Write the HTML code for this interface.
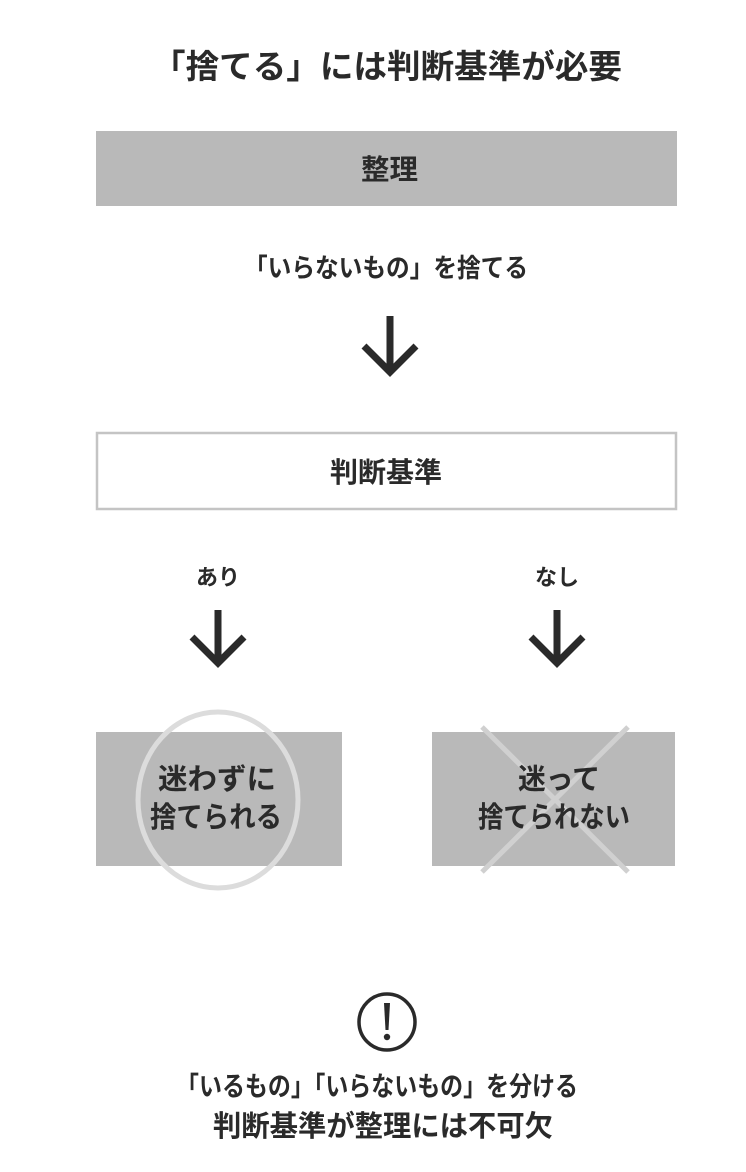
<!DOCTYPE html>
<html><head><meta charset="utf-8"><style>
html,body{margin:0;padding:0;background:#fff;}
svg{display:block;}
text{font-family:"Liberation Sans","Noto Sans CJK JP",sans-serif;font-weight:bold;fill:#2a2a2a;}
</style></head><body>
<svg width="746" height="1172" viewBox="0 0 746 1172" xmlns="http://www.w3.org/2000/svg">
<text x="152" y="78" font-size="33" textLength="470" lengthAdjust="spacingAndGlyphs">「捨てる」には判断基準が必要</text>
<rect x="96" y="131" width="581" height="75" fill="#b9b9b9"/>
<text x="361" y="179" font-size="28" textLength="57" lengthAdjust="spacingAndGlyphs">整理</text>
<text x="244" y="277" font-size="26" textLength="284" lengthAdjust="spacingAndGlyphs">「いらないもの」を捨てる</text>
<g stroke="#2a2a2a" stroke-width="7" fill="none">
<line x1="390" y1="316" x2="390" y2="370"/>
<polyline points="364,346 390,372 416,346"/>
<line x1="218" y1="610" x2="218" y2="662"/>
<polyline points="192,637 218,663 244,637"/>
<line x1="557" y1="610" x2="557" y2="662"/>
<polyline points="531,637 557,663 583,637"/>
</g>
<rect x="97" y="433" width="579" height="76" fill="#fff" stroke="#c4c4c4" stroke-width="2.5"/>
<text x="330" y="482" font-size="28" textLength="112" lengthAdjust="spacingAndGlyphs">判断基準</text>
<text x="196" y="585" font-size="22" textLength="44" lengthAdjust="spacingAndGlyphs">あり</text>
<text x="535" y="585" font-size="22" textLength="44" lengthAdjust="spacingAndGlyphs">なし</text>
<rect x="96" y="732" width="246" height="134" fill="#b9b9b9"/>
<rect x="432" y="732" width="243" height="134" fill="#b9b9b9"/>
<ellipse cx="218" cy="800" rx="80" ry="88" fill="none" stroke="#dcdcdc" stroke-width="5"/>
<g stroke="#d0d0d0" stroke-width="5">
<line x1="482" y1="727" x2="628" y2="872"/>
<line x1="628" y1="727" x2="482" y2="872"/>
</g>
<text x="158" y="789" font-size="29" textLength="118" lengthAdjust="spacingAndGlyphs">迷わずに</text>
<text x="150" y="827" font-size="29" textLength="132" lengthAdjust="spacingAndGlyphs">捨てられる</text>
<text x="518" y="789" font-size="29" textLength="82" lengthAdjust="spacingAndGlyphs">迷って</text>
<text x="478" y="827" font-size="29" textLength="152" lengthAdjust="spacingAndGlyphs">捨てられない</text>
<circle cx="387" cy="1022" r="28" fill="none" stroke="#2a2a2a" stroke-width="3.5"/>
<path d="M384 1003 L390 1003 L388.5 1030 L385.5 1030 Z" fill="#2a2a2a"/>
<circle cx="387" cy="1037" r="3.2" fill="#2a2a2a"/>
<text x="176" y="1096" font-size="27" textLength="402" lengthAdjust="spacingAndGlyphs">「いるもの」「いらないもの」を分ける</text>
<text x="213" y="1136" font-size="29" textLength="340" lengthAdjust="spacingAndGlyphs">判断基準が整理には不可欠</text>
</svg>
</body></html>
